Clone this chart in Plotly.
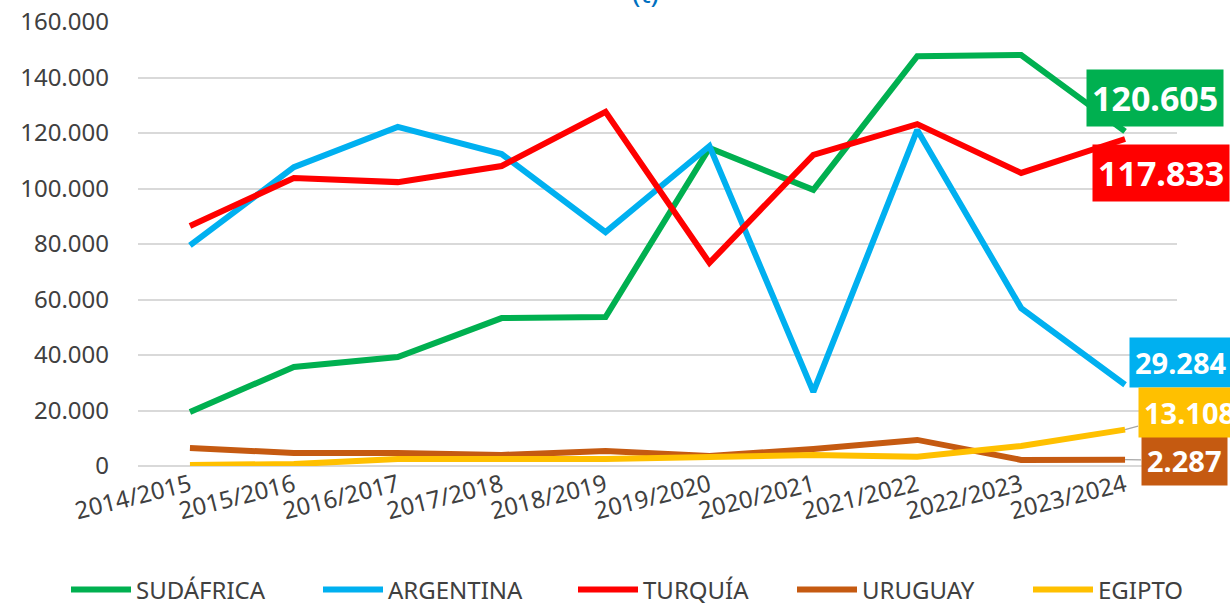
import plotly.graph_objects as go

campanas = ["2014/2015", "2015/2016", "2016/2017", "2017/2018", "2018/2019",
            "2019/2020", "2020/2021", "2021/2022", "2022/2023", "2023/2024"]

sudafrica = [19500, 35700, 39300, 53300, 53700, 114600, 99500, 147700, 148100, 120605]
argentina = [79500, 107700, 122200, 112400, 84300, 115300, 26700, 121100, 56900, 29284]
turquia = [86500, 103800, 102300, 108100, 127600, 73200, 112100, 123200, 105600, 117833]
uruguay = [6500, 4700, 4700, 4000, 5400, 3600, 6100, 9400, 2200, 2287]
egipto = [400, 700, 2500, 2500, 2500, 3200, 4000, 3300, 7200, 13108]

series = [
    ("SUDÁFRICA", sudafrica, "#00B050"),
    ("ARGENTINA", argentina, "#00B0F0"),
    ("TURQUÍA", turquia, "#FF0000"),
    ("URUGUAY", uruguay, "#C55A11"),
    ("EGIPTO", egipto, "#FFC000"),
]

# end-label offsets from the last point (px), font size, leader line shown?
label_pos = {
    "SUDÁFRICA": (30, -33, 34, False),
    "ARGENTINA": (56, -22, 29, False),
    "TURQUÍA": (36, 34, 34, False),
    "URUGUAY": (59, 1, 29, True),
    "EGIPTO": (64, -17, 29, True),
}
# left edge of each legend entry, px from the left of the page
legend_left = [66, 318, 573, 792, 1028]
PLOT_L, PLOT_W = 138, 1039

fig = go.Figure()
legends = {}
for i, (name, vals, color) in enumerate(series):
    lg = "legend" if i == 0 else f"legend{i + 1}"
    fig.add_trace(go.Scatter(
        x=campanas, y=vals, name=name, mode="lines",
        line={"color": color, "width": 6}, legend=lg,
    ))
    legends[lg] = {
        "x": (legend_left[i] - PLOT_L) / PLOT_W, "xanchor": "left",
        "yref": "container", "y": 1 - 590 / 603, "yanchor": "middle",
        "font": {"size": 24, "color": "#404040"},
        "itemwidth": 60, "bgcolor": "rgba(0,0,0,0)",
    }
    ax, ay, size, leader = label_pos[name]
    fig.add_annotation(
        x=campanas[-1], y=vals[-1],
        text=f"<b>{vals[-1]:,}</b>".replace(",", "."),
        showarrow=True, arrowhead=0, arrowwidth=1.2,
        arrowcolor="#a6a6a6" if leader else "rgba(0,0,0,0)",
        ax=ax, ay=ay,
        font={"family": "Noto Sans", "size": size, "color": "white"},
        bgcolor=color, borderpad=5,
    )

# the title sits mostly above the page; only the bottom of "(t)" shows
fig.add_annotation(
    x=0.488, y=1, xref="paper", yref="paper", yanchor="bottom", yshift=9,
    text="(t)", showarrow=False,
    font={"family": "Noto Sans", "size": 28, "color": "#0070C0"},
)

fig.update_layout(
    width=1230, height=603,
    margin={"l": 138, "r": 53, "t": 22, "b": 137},
    separators=",.",
    plot_bgcolor="white", paper_bgcolor="white",
    font={"family": "Noto Sans", "size": 22, "color": "#404040"},
    showlegend=True,
    **legends,
)
fig.update_xaxes(
    type="category", range=[-0.5, 9.5], tickangle=-14,
    showgrid=False, showline=False, ticks="", automargin=False,
    tickfont={"size": 24},
)
fig.update_yaxes(
    range=[0, 160000], dtick=20000, tickformat=",d",
    showgrid=True, gridcolor="#d9d9d9", gridwidth=1.5,
    zeroline=True, zerolinecolor="#d9d9d9", zerolinewidth=1.5,
    tickfont={"size": 24}, ticks="", ticklabelstandoff=28, automargin=False,
)

# the page body keeps an 8px default margin; drop it so the chart sits at 0,0
fig.write_html("out.html", config={"displayModeBar": False},
               post_script="document.body.style.margin = '0';")
